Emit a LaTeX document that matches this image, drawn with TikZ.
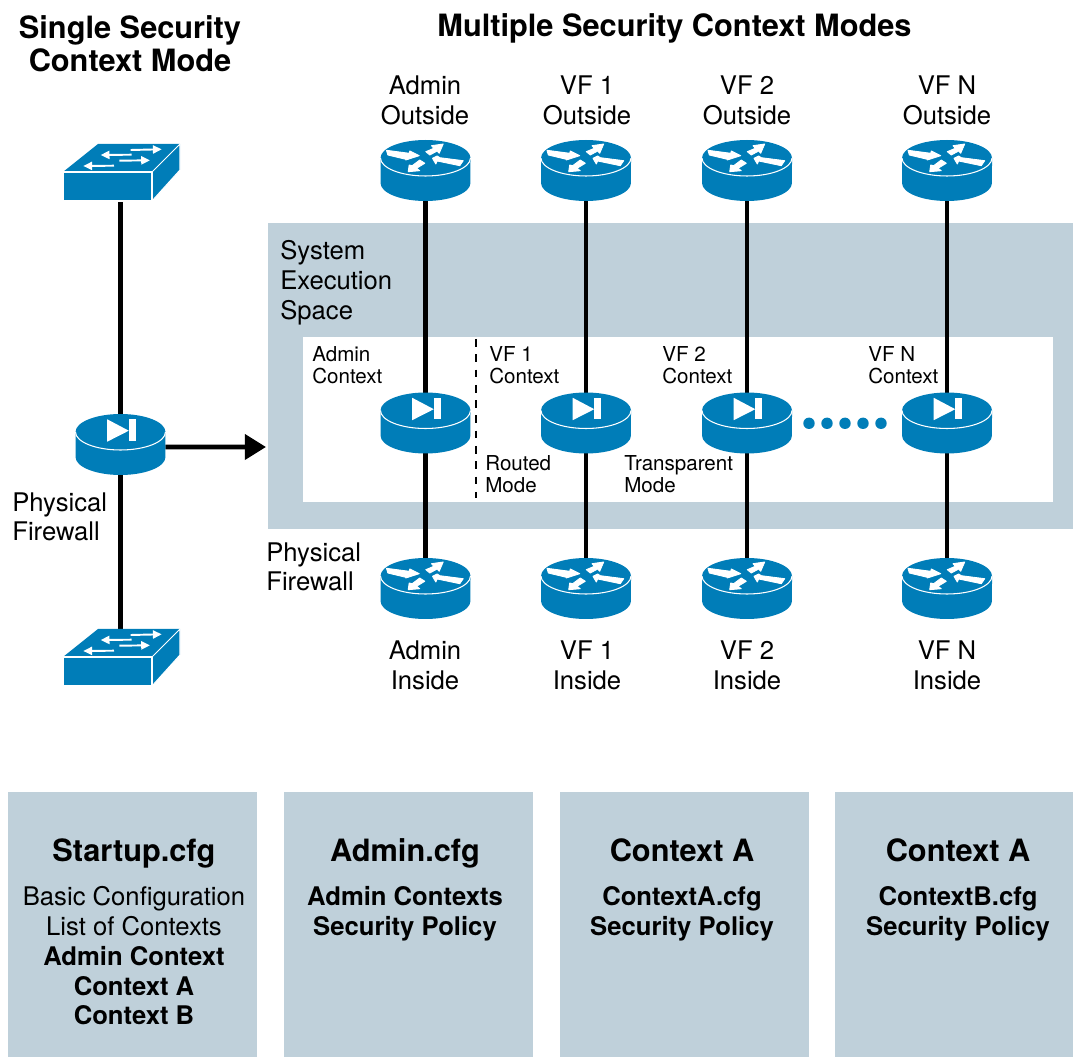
\documentclass[tikz,border=0pt]{standalone}
\usepackage{fontspec}
\setmainfont{TeX Gyre Heros}
\usetikzlibrary{arrows.meta}
\definecolor{ciscoblue}{HTML}{007DB8}
\definecolor{panelgray}{HTML}{BFD0DA}
\tikzset{
	devbox/.style={minimum width=1.8cm,minimum height=1.22cm,inner sep=0pt,outer sep=0pt},
	swbox/.style={minimum width=2.34cm,minimum height=1.14cm,inner sep=0pt,outer sep=0pt},
	link/.style={line width=2.8pt},
	lbl/.style={align=center,inner sep=0pt,font=\fontsize{14.6}{17}\selectfont},
	small/.style={align=left,inner sep=0pt,font=\fontsize{11.7}{12.6}\selectfont},
	heading/.style={align=center,inner sep=0pt,font=\fontsize{17.5}{19}\selectfont\bfseries},
	panel/.style={fill=panelgray,inner sep=0pt,outer sep=0pt},
	swarrow/.style={white,line width=1.1pt,-{Triangle[length=5pt,width=4.6pt]}},
	rarrow/.style={fill=white,draw=white,line width=0.5pt,line join=round},
	puck/.pic={
		\fill[ciscoblue] (-45,-12.5) -- (-45,12.5) arc (180:360:0.9cm and 0.36cm) -- (45,-12.5) arc (0:180:0.9cm and 0.36cm) -- cycle;
		\draw[white,line width=0.6pt] (-45,-12.5) arc (180:360:0.9cm and 0.36cm);
	},
	router/.pic={
		\pic {puck};
		\begin{scope}[shift={(0,-12.5)}]
		\path[rarrow] (-39,-7.7) -- (-37.7,-3) -- (-19.7,1.3) -- (-19.7,2) -- (-6.3,-2.3) -- (-15.7,-7) -- (-16.3,-4.7) -- cycle;
		\path[rarrow] (17.7,-14) -- (6,-12.3) -- (8.3,-9.7) -- (0.3,-6.3) -- (4.3,-3) -- (11.7,-7) -- (13.7,-4.7) -- cycle;
		\path[rarrow] (7,0.3) -- (11.7,-2) -- (14.3,-0.3) -- (37.7,2.7) -- (34.3,7.7) -- (11.7,3) -- (10.3,6) -- cycle;
		\path[rarrow] (-17.3,13.7) -- (-16.3,7) -- (-13.3,7.7) -- (-5.7,2) -- (-0.7,5.3) -- (-9,10.3) -- (-5.7,12.7) -- cycle;
		\end{scope}
	},
	firewall/.pic={
		\pic {puck};
		\begin{scope}[shift={(0,-12.5)}]
		\fill[white] (-13.3,-12.7) -- (-13.3,9.7) -- (8.3,-1.3) -- cycle;
		\fill[white] (8.3,-12.7) rectangle (15.3,8.7);
		\end{scope}
	},
	switchbox/.pic={
		\fill[ciscoblue] (-57.5,-0.5) -- (-22.5,-28.5) -- (59.5,-28.5) -- (59.5,-2.5) -- (31.5,28.5) -- (-57.5,28.5) -- cycle;
		\draw[white,line width=0.6pt] (-57.5,-0.5) -- (31.5,-0.5) -- (31.5,28.5) -- (-57.5,28.5) -- cycle;
		\draw[white,line width=0.6pt] (31.5,-0.5) -- (59.5,-28.5) -- (59.5,-2.5) -- (31.5,28.5);
		\draw[swarrow] (11.2,-17.8) -- (-19.8,-17.5);
		\draw[swarrow] (10.2,-22.5) -- (41.2,-23.2);
		\draw[swarrow] (-1.2,-11.8) -- (29.5,-12.2);
		\draw[swarrow] (-6.5,-6.8) -- (-37.2,-6.5);
	},
}
\begin{document}
\begin{tikzpicture}[x=0.02cm,y=-0.02cm]
	\useasboundingbox (0,0) rectangle (1073,1057);

	% panels
	\node[panel,minimum width=16.1cm,minimum height=6.12cm] (space) at (670.5,376) {};
	\node[fill=white,inner sep=0pt,minimum width=15cm,minimum height=3.3cm] (inner) at (678,419.5) {};
	\node[panel,minimum width=4.98cm,minimum height=5.3cm] (cfga) at (132.5,924.5) {};
	\node[panel,minimum width=4.98cm,minimum height=5.3cm] (cfgb) at (408.5,924.5) {};
	\node[panel,minimum width=4.98cm,minimum height=5.3cm] (cfgc) at (684.5,924.5) {};
	\node[panel,minimum width=4.76cm,minimum height=5.3cm] (cfgd) at (954,924.5) {};

	% devices
	\node[swbox] (swtop) at (120.5,172.5) {};
	\node[swbox] (swbot) at (120.5,657.5) {};
	\node[devbox] (fwmain) at (120.5,444.5) {};

	\node[devbox] (outa) at (425.5,170.5) {};
	\node[devbox] (outb) at (586,170.5) {};
	\node[devbox] (outc) at (747,170.5) {};
	\node[devbox] (outd) at (947,170.5) {};
	\node[devbox] (fwa) at (425.5,423) {};
	\node[devbox] (fwb) at (586,423) {};
	\node[devbox] (fwc) at (747,423) {};
	\node[devbox] (fwd) at (947,423) {};
	\node[devbox] (ina) at (425.5,588.5) {};
	\node[devbox] (inb) at (586,588.5) {};
	\node[devbox] (inc) at (747,588.5) {};
	\node[devbox] (ind) at (947,588.5) {};

	% connectors
	\draw[link] (swtop) -- (fwmain);
	\draw[link] (fwmain) -- (swbot);
	\draw[link] (outa) -- (fwa);
	\draw[link] (outb) -- (fwb);
	\draw[link] (outc) -- (fwc);
	\draw[link] (outd) -- (fwd);
	\draw[link] (fwa) -- (ina);
	\draw[link] (fwb) -- (inb);
	\draw[link] (fwc) -- (inc);
	\draw[link] (fwd) -- (ind);
	\coordinate (arrowend) at (266,447);
	\draw[link,-{Triangle[length=12pt,width=14pt]}] ([yshift=-0.05cm]fwmain.east) -- (arrowend);
	\coordinate (dashtop) at (476,339);
	\coordinate (dashbot) at (476,498);
	\draw[line width=1.7pt,dash pattern=on 4.4pt off 4.3pt] (dashtop) -- (dashbot);

	% icons
	\pic at (swtop) {switchbox};
	\pic at (swbot) {switchbox};
	\pic at (fwmain) {firewall};
	\pic at (outa) {router};
	\pic at (outb) {router};
	\pic at (outc) {router};
	\pic at (outd) {router};
	\pic at (fwa) {firewall};
	\pic at (fwb) {firewall};
	\pic at (fwc) {firewall};
	\pic at (fwd) {firewall};
	\pic at (ina) {router};
	\pic at (inb) {router};
	\pic at (inc) {router};
	\pic at (ind) {router};

	\foreach \px in {809,827,845,863,881}
		\fill[ciscoblue] (\px,423.3) circle (0.114cm);

	% text
	\node[heading] (title1) at (130,44) {Single Security\\Context Mode};
	\node[heading] (title2) at (674.5,28) {Multiple Security Context Modes};
	\node[lbl] (topa) at (425,100) {Admin\\Outside};
	\node[lbl] (topb) at (587,100) {VF 1\\Outside};
	\node[lbl] (topc) at (747,100) {VF 2\\Outside};
	\node[lbl] (topd) at (947,100) {VF N\\Outside};
	\node[lbl] (bota) at (425,665) {Admin\\Inside};
	\node[lbl] (botb) at (587,665) {VF 1\\Inside};
	\node[lbl] (botc) at (747,665) {VF 2\\Inside};
	\node[lbl] (botd) at (947,665) {VF N\\Inside};
	\node[lbl,align=left,anchor=north west] (syslbl) at (280,240) {System\\Execution\\Space};
	\node[lbl,align=left,anchor=north west] (phy1) at (12,492) {Physical\\Firewall};
	\node[lbl,align=left,anchor=north west] (phy2) at (266,542) {Physical\\Firewall};
	\node[small,anchor=north west] (ctxa) at (312,346) {Admin\\Context};
	\node[small,anchor=north west] (ctxb) at (489,346) {VF 1\\Context};
	\node[small,anchor=north west] (ctxc) at (662,346) {VF 2\\Context};
	\node[small,anchor=north west] (ctxd) at (868,346) {VF N\\Context};
	\node[small,anchor=north west] (routed) at (485,455) {Routed\\Mode};
	\node[small,anchor=north west] (transp) at (624,455) {Transparent\\Mode};

	\node[heading,anchor=base] (cfgah) at (134,862) {Startup.cfg};
	\node[lbl,anchor=north] (cfgat) at (134,886) {Basic Configuration\\List of Contexts\\\textbf{Admin Context}\\\textbf{Context A}\\\textbf{Context B}};
	\node[heading,anchor=base] (cfgbh) at (405,862) {Admin.cfg};
	\node[lbl,anchor=north] (cfgbt) at (405,886) {\textbf{Admin Contexts}\\\textbf{Security Policy}};
	\node[heading,anchor=base] (cfgch) at (682,862) {Context A};
	\node[lbl,anchor=north] (cfgct) at (682,886) {\textbf{ContextA.cfg}\\\textbf{Security Policy}};
	\node[heading,anchor=base] (cfgdh) at (958,862) {Context A};
	\node[lbl,anchor=north] (cfgdt) at (958,886) {\textbf{ContextB.cfg}\\\textbf{Security Policy}};
\end{tikzpicture}
\end{document}
